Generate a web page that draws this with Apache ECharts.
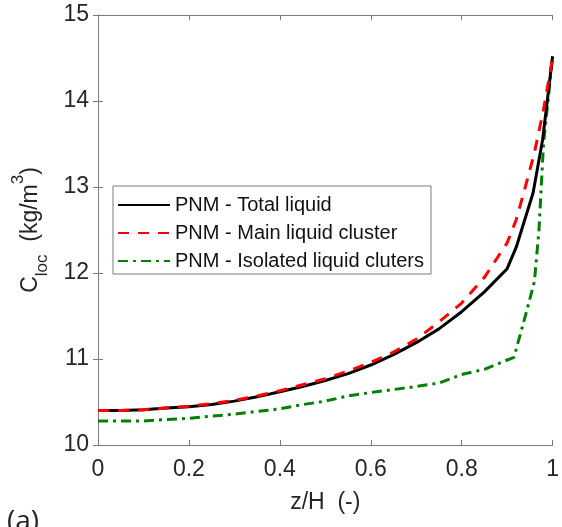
<!DOCTYPE html>
<html>
<head>
<meta charset="utf-8">
<script src="https://cdn.jsdelivr.net/npm/echarts@6/dist/echarts.min.js"></script>
<style>html,body{margin:0;padding:0;background:#fff;}#c{width:562px;height:527px;}</style>
</head>
<body>
<div id="c"></div>
<script>
var seriesNames = ['PNM - Total liquid', 'PNM - Main liquid cluster', 'PNM - Isolated liquid cluters'];
var zTotal = [0, 0.05, 0.1, 0.15, 0.2, 0.25, 0.3, 0.35, 0.4, 0.45, 0.5, 0.55, 0.6, 0.65, 0.7, 0.75, 0.8, 0.85, 0.9, 0.92, 0.957, 0.978, 1];
var cTotal = [10.40, 10.40, 10.41, 10.43, 10.445, 10.47, 10.51, 10.56, 10.62, 10.68, 10.75, 10.83, 10.93, 11.05, 11.19, 11.35, 11.55, 11.78, 12.05, 12.30, 12.93, 13.55, 14.52];
var zMain = [0, 0.05, 0.1, 0.15, 0.2, 0.25, 0.3, 0.35, 0.4, 0.45, 0.5, 0.55, 0.6, 0.65, 0.7, 0.75, 0.8, 0.85, 0.9, 0.92, 0.94, 0.96, 0.98, 1];
var cMain = [10.40, 10.40, 10.41, 10.43, 10.45, 10.48, 10.52, 10.57, 10.63, 10.70, 10.77, 10.86, 10.96, 11.08, 11.23, 11.43, 11.65, 11.95, 12.35, 12.62, 13.0, 13.4, 13.9, 14.5];
var zIsolated = [0, 0.1, 0.2, 0.3, 0.4, 0.45, 0.5, 0.55, 0.6, 0.7, 0.75, 0.8, 0.85, 0.915, 0.94, 0.96, 0.97, 0.98, 1];
var cIsolated = [10.28, 10.28, 10.31, 10.36, 10.42, 10.47, 10.51, 10.57, 10.61, 10.68, 10.72, 10.82, 10.88, 11.02, 11.5, 11.9, 12.5, 13.5, 14.52];
var xTicks = [0, 0.2, 0.4, 0.6, 0.8, 1];
var yTicks = [10, 11, 12, 13, 14, 15];

function pairs(xs, ys) { return xs.map(function (x, i) { return [x, ys[i]]; }); }

var axisColor = '#7a7a7a';
var labelColor = '#262626';
var font = 'Liberation Sans, Arial, sans-serif';

var chart = echarts.init(document.getElementById('c'));
chart.setOption({
  animation: false,
  backgroundColor: '#fff',
  grid: { left: 98, right: 5, top: 15, bottom: 82, containLabel: false },
  legend: {
    orient: 'vertical', left: 113, top: 186,
    backgroundColor: '#fff',
    borderColor: axisColor, borderWidth: 1,
    padding: [9, 7, 3, 4],
    itemWidth: 52, itemHeight: 14, itemGap: 8,
    itemStyle: { opacity: 0 },
    textStyle: { fontFamily: font, fontSize: 20, lineHeight: 14, color: '#111' },
    data: seriesNames
  },
  xAxis: [{
    type: 'value', min: 0, max: 1, interval: 0.2,
    axisLine: { lineStyle: { color: axisColor, width: 1 } },
    axisTick: { inside: true, length: 5, lineStyle: { color: axisColor } },
    splitLine: { show: false },
    axisLabel: { color: labelColor, fontFamily: font, fontSize: 23, margin: 13,
      formatter: function (v) { return String(Math.round(v * 10) / 10); } },
    name: 'z/H  (-)', nameLocation: 'middle', nameGap: 46,
    nameTextStyle: { color: labelColor, fontFamily: font, fontSize: 23 }
  }, {
    type: 'value', min: 0, max: 1, interval: 0.2, position: 'top',
    axisLine: { show: true, lineStyle: { color: axisColor, width: 1 } },
    axisTick: { inside: true, length: 5, lineStyle: { color: axisColor } },
    axisLabel: { show: false }, splitLine: { show: false }
  }],
  yAxis: [{
    type: 'value', min: 10, max: 15, interval: 1,
    axisLine: { show: true, lineStyle: { color: axisColor, width: 1 } },
    axisTick: { show: true, inside: true, length: 5, lineStyle: { color: axisColor } },
    splitLine: { show: false },
    axisLabel: { color: labelColor, fontFamily: font, fontSize: 23, margin: 9 },
    name: 'C{sub|loc}  (kg/m{sup|3})', nameLocation: 'middle', nameGap: 56, nameRotate: 90,
    nameTextStyle: { color: labelColor, fontFamily: font, fontSize: 23,
      rich: {
        sub: { fontSize: 17, fontFamily: font, color: labelColor, verticalAlign: 'bottom', padding: [0, 0, -9, 0] },
        sup: { fontSize: 17, fontFamily: font, color: labelColor, verticalAlign: 'top', padding: [-9, 0, 0, 0] }
      } }
  }, {
    type: 'value', min: 10, max: 15, interval: 1, position: 'right',
    axisLine: { show: true, lineStyle: { color: axisColor, width: 1 } },
    axisTick: { show: true, inside: true, length: 5, lineStyle: { color: axisColor } },
    axisLabel: { show: false }, splitLine: { show: false }
  }],
  graphic: [{
    type: 'text', left: 7, top: 508,
    style: { text: '(a)', font: '28px "Open Sans", Calibri, sans-serif', fill: '#222' }
  }],
  series: [{
    name: seriesNames[0], type: 'line', data: pairs(zTotal, cTotal),
    showSymbol: false, symbol: 'none', smooth: false,
    lineStyle: { color: '#000', width: 3, type: 'solid' }, itemStyle: { color: '#000' }, z: 3
  }, {
    name: seriesNames[1], type: 'line', data: pairs(zMain, cMain),
    showSymbol: false, symbol: 'none',
    lineStyle: { color: '#ff0000', width: 3, type: [11, 9] }, itemStyle: { color: '#ff0000' }, z: 4
  }, {
    name: seriesNames[2], type: 'line', data: pairs(zIsolated, cIsolated),
    showSymbol: false, symbol: 'none',
    lineStyle: { color: '#008000', width: 3, type: [10, 5, 3, 5] }, itemStyle: { color: '#008000' }, z: 2
  }]
});
</script>
</body>
</html>
